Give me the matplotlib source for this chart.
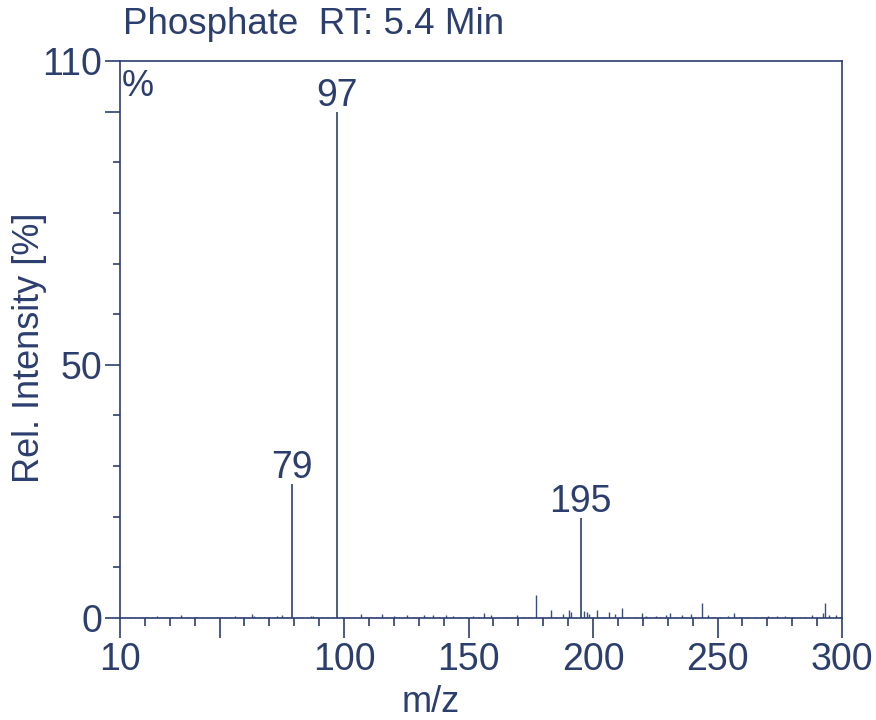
import matplotlib.pyplot as plt
from matplotlib.ticker import MultipleLocator, FixedLocator

plt.rcParams['font.family'] = ['Liberation Sans', 'DejaVu Sans']

NAVY = '#2b3e6e'
PEAK = '#3a4d7c'

# labelled peaks
label_mz = [79, 97, 195]
label_int = [26.5, 100.0, 19.8]

# minor peaks (m/z, rel. intensity %)
minor_mz = [12, 14, 16, 18.7, 21, 23, 24.7, 27.1, 29, 31, 34.5, 37, 40, 43, 46, 49,
            52, 54, 56.2, 58, 60, 62.9, 64, 66, 68, 70, 72.9, 74.9, 77, 81, 83,
            86.6, 87.6, 89, 91, 93, 95.7, 99, 102, 104, 106.8, 109, 111, 113,
            115.1, 117, 120, 122, 125.2, 128, 130, 132.3, 135.6, 138, 140.8,
            143.9, 146, 149, 151.8, 154, 156.3, 159, 162, 165, 167, 169.3, 172,
            174, 177.2, 180, 183, 185, 187.8, 190.4, 191.2, 196.2, 197.4, 198.3,
            201.6, 204, 206.4, 208.8, 211.5, 214, 217, 219.5, 221.2, 223,
            225.1, 227, 229.5, 230.9, 233, 235.6, 237, 239.2, 241, 243.6, 246,
            248, 251, 254.3, 256.6, 259, 262, 265, 268, 270.4, 272, 274, 277.1,
            280, 283, 285, 287.8, 290, 292.5, 293.1, 294.9, 297.5, 299]
minor_int = [0.15, 0.1, 0.2, 0.25, 0.1, 0.15, 0.35, 0.25, 0.1, 0.15, 0.6, 0.1,
             0.15, 0.1, 0.2, 0.1, 0.25, 0.2, 0.4, 0.2, 0.15, 0.7, 0.3, 0.2, 0.15,
             0.1, 0.3, 0.5, 0.2, 0.2, 0.15, 0.4, 0.35, 0.15, 0.2, 0.1, 0.25,
             0.2, 0.15, 0.2, 0.7, 0.2, 0.15, 0.2, 0.8, 0.2, 0.3, 0.15, 0.5, 0.2,
             0.15, 0.6, 0.6, 0.2, 0.6, 0.4, 0.2, 0.2, 0.3, 0.2, 1.0, 0.5, 0.2,
             0.2, 0.15, 0.6, 0.2, 0.15, 4.5, 0.2, 1.5, 0.2, 0.7, 1.5, 1.2, 1.3,
             1.2, 0.7, 1.5, 0.2, 1.2, 0.8, 2.0, 0.2, 0.2, 1.0, 0.4, 0.2, 0.3,
             0.15, 0.5, 1.0, 0.2, 0.5, 0.2, 0.7, 0.2, 3.0, 0.6, 0.2, 0.2, 0.4,
             0.9, 0.2, 0.15, 0.2, 0.15, 0.3, 0.15, 0.3, 0.3, 0.2, 0.15, 0.2,
             0.5, 0.2, 1.0, 3.0, 0.6, 0.5, 0.2]

fig = plt.figure(figsize=(8.76, 7.2), dpi=100)
ax = fig.add_axes([120 / 876, 102 / 720, 722 / 876, 557 / 720])

ax.vlines(minor_mz, 0, minor_int, color=PEAK, lw=1.0)
ax.vlines(label_mz, 0, label_int, color=PEAK, lw=1.3)
for mz, h in zip(label_mz, label_int):
    ax.annotate(str(mz), (mz, h), xytext=(0, 4), textcoords='offset points',
                ha='center', va='baseline', fontsize=27, color=NAVY)

ax.set_xlim(10, 300)
ax.set_ylim(0, 110)

# x ticks: long ones every 50, short ones every 10
ax.xaxis.set_major_locator(FixedLocator([10, 50, 100, 150, 200, 250, 300]))
ax.xaxis.set_minor_locator(MultipleLocator(10))
ax.set_xticklabels(['10', '', '100', '150', '200', '250', '300'])
ax.yaxis.set_major_locator(FixedLocator([0, 50, 100, 110]))
ax.yaxis.set_minor_locator(MultipleLocator(10))
ax.set_yticklabels(['0', '50', '', '110'])

ax.tick_params(axis='y', which='major', length=11, width=1.2, color=NAVY,
               labelsize=27, labelcolor=NAVY, pad=2)
ax.tick_params(axis='y', which='minor', length=5, width=1.2, color=NAVY)
ax.tick_params(axis='x', which='major', length=14.5, width=1.2, color=NAVY,
               labelsize=27, labelcolor=NAVY, pad=3)
ax.tick_params(axis='x', which='minor', length=6, width=1.2, color=NAVY)
for t in ax.xaxis.get_major_ticks()[1:]:
    t.tick1line.set_color('#1a1a1a')

for s in ax.spines.values():
    s.set_color(NAVY)
    s.set_linewidth(1.2)

ax.set_xlabel('m/z', fontsize=26, color=NAVY)
ax.xaxis.label.set_va('baseline')
ax.xaxis.set_label_coords(0.43, -0.169)
ax.set_ylabel('Rel. Intensity [%]', fontsize=26, color=NAVY)
ax.yaxis.label.set_va('center')
ax.yaxis.set_label_coords(-0.126, 0.485)

ax.text(0.003, 0.985, '%', transform=ax.transAxes, ha='left', va='top',
        fontsize=26, color=NAVY)
fig.text(123 / 876, 1 - 34 / 720, 'Phosphate  RT: 5.4 Min', ha='left',
         va='baseline', fontsize=26.5, color=NAVY)

fig.savefig('out.png', dpi=100)
